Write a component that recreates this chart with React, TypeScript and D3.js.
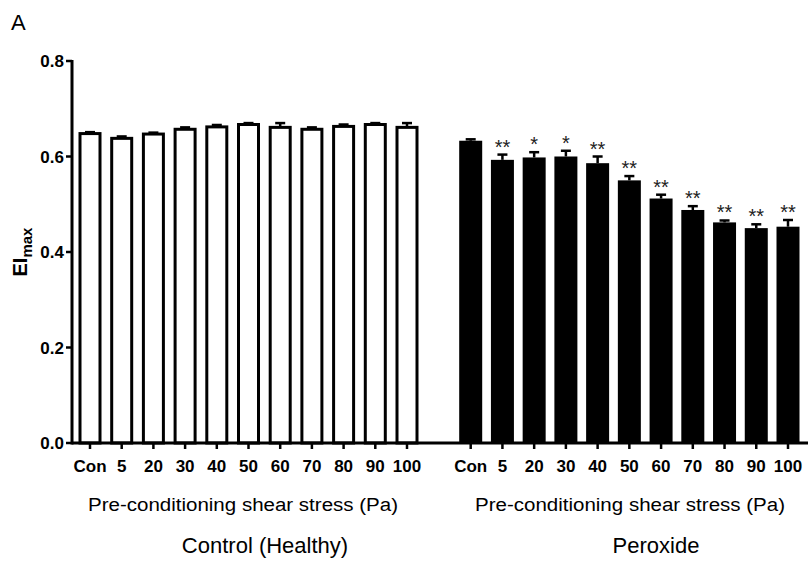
import React from "react";
import * as d3 from "d3";

// Pre-conditioning shear stress categories (Pa)
const categories = ["Con", "5", "20", "30", "40", "50", "60", "70", "80", "90", "100"];

// EI max, control (healthy) cells
const controlMean = [0.648, 0.638, 0.647, 0.657, 0.662, 0.667, 0.661, 0.657, 0.663, 0.667, 0.661];
const controlErr = [0.003, 0.004, 0.003, 0.004, 0.004, 0.003, 0.009, 0.004, 0.004, 0.003, 0.009];

// EI max, peroxide-treated cells
const peroxideMean = [0.633, 0.593, 0.598, 0.600, 0.586, 0.550, 0.512, 0.488, 0.462, 0.450, 0.453];
const peroxideErr = [0.003, 0.011, 0.011, 0.012, 0.014, 0.009, 0.008, 0.008, 0.004, 0.008, 0.014];
const peroxideSig = ["", "**", "*", "*", "**", "**", "**", "**", "**", "**", "**"];

const yTicks = [0, 0.2, 0.4, 0.6, 0.8];

const W = 809;
const H = 567;
const FONT = "'Liberation Sans', Arial, sans-serif";

export default function App() {
  const y = d3.scaleLinear().domain([0, 0.8]).range([443, 61]);
  const xLeft = d3.scalePoint<string>().domain(categories).range([90, 407]);
  const xRight = d3.scalePoint<string>().domain(categories).range([470.7, 788]);
  const barW = 23;
  const capW = 10;
  const fmt = d3.format(".1f");

  const group = (
    x: d3.ScalePoint<string>,
    means: number[],
    errs: number[],
    filled: boolean,
    sig?: string[]
  ) =>
    categories.map((c, i) => {
      const cx = x(c)!;
      const top = y(means[i]);
      const errTop = y(means[i] + errs[i]);
      return (
        <g key={c}>
          <line x1={cx} x2={cx} y1={top} y2={errTop} stroke="#000" strokeWidth={2.5} />
          <line x1={cx - capW / 2} x2={cx + capW / 2} y1={errTop} y2={errTop} stroke="#000" strokeWidth={2.5} />
          {filled ? (
            <rect x={cx - barW / 2} y={top} width={barW} height={y(0) - top} fill="#000" />
          ) : (
            <rect
              x={cx - barW / 2 + 1.5}
              y={top}
              width={barW - 3}
              height={y(0) - top}
              fill="#fff"
              stroke="#000"
              strokeWidth={3}
            />
          )}
          {sig && sig[i] ? (
            <text x={cx} y={errTop - 1} textAnchor="middle" fontFamily={FONT} fontSize={20} fill="#222">
              {sig[i]}
            </text>
          ) : null}
          <line x1={cx} x2={cx} y1={y(0)} y2={y(0) + 6} stroke="#000" strokeWidth={2.5} />
          <text x={cx} y={472} textAnchor="middle" fontFamily={FONT} fontWeight="bold" fontSize={17}>
            {c}
          </text>
        </g>
      );
    });

  return (
    <svg width={W} height={H} style={{ position: "absolute", left: 0, top: 0 }}>
      <rect width={W} height={H} fill="#fff" />
      <text x={11} y={30} fontFamily={FONT} fontSize={22}>A</text>

      {/* y axis */}
      <line x1={72} x2={72} y1={y(0.8) - 1} y2={y(0) + 1.5} stroke="#000" strokeWidth={3} />
      {yTicks.map((t) => (
        <g key={t}>
          <line x1={66} x2={72} y1={y(t)} y2={y(t)} stroke="#000" strokeWidth={2.5} />
          <text x={64} y={y(t) + 6} textAnchor="end" fontFamily={FONT} fontWeight="bold" fontSize={17}>
            {fmt(t)}
          </text>
        </g>
      ))}
      <text
        transform={`translate(27, 252) rotate(-90)`}
        textAnchor="middle"
        fontFamily={FONT}
        fontWeight="bold"
        fontSize={20}
      >
        EI
        <tspan fontSize={15} dy={5}>max</tspan>
      </text>

      {/* bars */}
      {group(xLeft, controlMean, controlErr, false)}
      {group(xRight, peroxideMean, peroxideErr, true, peroxideSig)}

      {/* x axis baseline */}
      <line x1={72} x2={808} y1={y(0)} y2={y(0)} stroke="#000" strokeWidth={3} />

      {/* axis titles */}
      <text x={243} y={511} textAnchor="middle" fontFamily={FONT} fontSize={18} textLength={310} lengthAdjust="spacingAndGlyphs">
        Pre-conditioning shear stress (Pa)
      </text>
      <text x={630} y={511} textAnchor="middle" fontFamily={FONT} fontSize={18} textLength={310} lengthAdjust="spacingAndGlyphs">
        Pre-conditioning shear stress (Pa)
      </text>
      <text x={265} y={553} textAnchor="middle" fontFamily={FONT} fontSize={22}>
        Control (Healthy)
      </text>
      <text x={656} y={553} textAnchor="middle" fontFamily={FONT} fontSize={22}>
        Peroxide
      </text>
    </svg>
  );
}
